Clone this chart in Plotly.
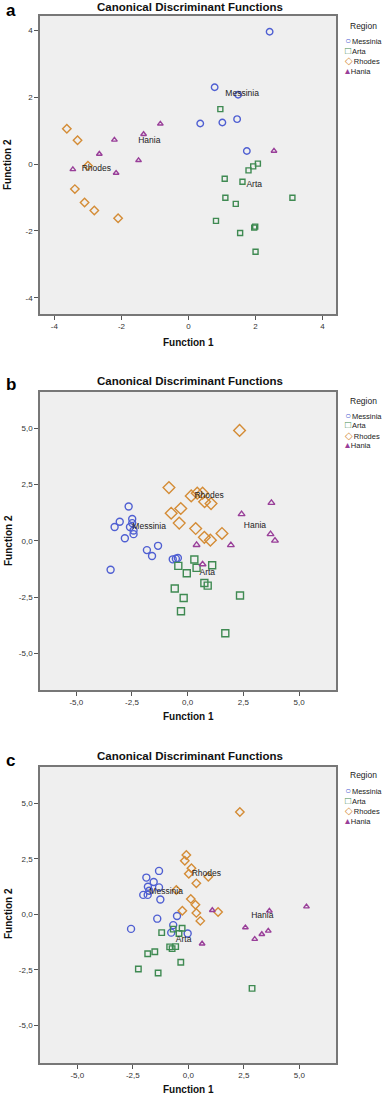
import plotly.graph_objects as go

# ---------------- data ----------------
regions = ["Messinia", "Arta", "Rhodes", "Hania"]

# Panel a
a_mes_x = [2.42, 0.78, 1.48, 0.35, 1.01, 1.45, 1.74]
a_mes_y = [3.95, 2.29, 2.07, 1.21, 1.24, 1.34, 0.39]
a_art_x = [0.95, 2.07, 1.93, 1.79, 1.08, 1.61, 1.10, 3.10, 1.41, 0.82, 1.99, 1.96, 1.54, 2.00]
a_art_y = [1.64, 0.01, -0.07, -0.19, -0.44, -0.53, -1.01, -1.01, -1.19, -1.70, -1.87, -1.90, -2.06, -2.62]
a_rho_x = [-3.63, -3.31, -3.00, -3.39, -3.10, -2.81, -2.10]
a_rho_y = [1.05, 0.71, -0.05, -0.75, -1.15, -1.39, -1.62]
a_han_x = [-0.84, -1.34, -2.21, -2.66, -1.49, -3.45, -2.16, 2.55]
a_han_y = [1.20, 0.89, 0.72, 0.30, 0.11, -0.16, -0.27, 0.39]
a_lab_x = [1.60, 1.96, -2.75, -1.17]
a_lab_y = [2.08, -0.63, -0.15, 0.68]

# Panel b
b_mes_x = [-2.65, -3.05, -3.28, -2.49, -2.49, -2.59, -2.43, -2.43, -2.82, -1.83, -1.33, -1.60, -3.46, -0.67, -0.53, -0.44]
b_mes_y = [1.53, 0.85, 0.62, 0.97, 0.79, 0.62, 0.46, 0.30, 0.12, -0.41, -0.22, -0.67, -1.28, -0.82, -0.79, -0.76]
b_art_x = [0.30, 1.10, -0.42, 0.40, -0.04, 0.75, 0.90, -0.58, 2.35, -0.18, -0.30, 1.69]
b_art_y = [-0.83, -1.08, -1.11, -1.20, -1.44, -1.87, -1.99, -2.12, -2.43, -2.54, -3.13, -4.11]
b_rho_x = [2.33, -0.84, 0.16, 0.43, 0.67, 0.76, 1.05, -0.31, -0.74, -0.38, 0.36, 0.75, 1.02, 1.54]
b_rho_y = [4.91, 2.37, 2.00, 2.12, 2.12, 1.74, 1.66, 1.44, 1.23, 0.79, 0.55, 0.16, 0.03, 0.33]
b_han_x = [3.76, 2.42, 3.72, 3.92, 0.40, 1.94, 0.67]
b_han_y = [1.69, 1.19, 0.30, 0.01, -0.18, -0.19, -1.04]
b_lab_x = [-1.73, 0.88, 0.96, 3.02]
b_lab_y = [0.64, -1.44, 2.00, 0.67]

# Panel c
c_mes_x = [-1.32, -1.89, -1.56, -1.82, -1.32, -2.03, -1.83, -1.76, -1.26, -0.51, -1.40, -2.58, -0.68, -0.77, -0.03]
c_mes_y = [1.95, 1.65, 1.45, 1.24, 1.21, 0.87, 0.87, 1.06, 0.66, -0.08, -0.20, -0.66, -0.49, -0.83, -0.87]
c_art_x = [-0.28, -0.68, -1.20, -0.42, -0.84, -0.73, -0.57, -1.51, -1.83, -0.34, -2.25, -1.36, 2.87]
c_art_y = [-0.63, -0.67, -0.83, -0.87, -1.47, -1.55, -1.46, -1.69, -1.78, -2.16, -2.47, -2.65, -3.34]
c_rho_x = [2.32, -0.09, -0.16, 0.14, 0.02, 0.90, 0.36, -0.54, 0.11, 0.32, -0.27, 0.36, 1.34, 0.54]
c_rho_y = [4.60, 2.67, 2.41, 2.07, 1.82, 1.69, 1.39, 1.09, 0.69, 0.43, 0.16, 0.06, 0.10, -0.30]
c_han_x = [1.08, 3.65, 5.32, 2.57, 3.60, 3.31, 2.99, 0.62]
c_han_y = [0.18, 0.15, 0.34, -0.60, -0.75, -0.90, -1.12, -1.33]
c_lab_x = [-1.00, -0.21, 0.81, 3.33]
c_lab_y = [0.99, -1.17, 1.81, -0.09]

ticks_a = [-4, -2, 0, 2, 4]
ticklabels_a = ["-4", "-2", "0", "2", "4"]
ticks_bc = [-5, -2.5, 0, 2.5, 5]
ticklabels_bc = ["-5,0", "-2,5", "0,0", "2,5", "5,0"]

# ---------------- styles ----------------
colors = {"Messinia": "#4f5fd2", "Arta": "#3f8a52", "Rhodes": "#d48c36", "Hania": "#993f99"}
symbols = {"Messinia": "circle-open", "Arta": "square-open", "Rhodes": "diamond-open", "Hania": "triangle-up-open"}
legend_glyph = {"Messinia": "○", "Arta": "□", "Rhodes": "◇", "Hania": "▴"}
FONT = "Liberation Sans, Arial, sans-serif"

W, H = 384, 1095
panels = [
    dict(key="a", data=[(a_mes_x, a_mes_y), (a_art_x, a_art_y), (a_rho_x, a_rho_y), (a_han_x, a_han_y)],
         lab=(a_lab_x, a_lab_y), xr=[-4.43, 4.40], yr=[-4.48, 4.42], top=16, bot=314,
         ticks=ticks_a, tl=ticklabels_a, sizes=[6.5, 5, 6.5, 5],
         title_y=7, xt_y=342, yt_y=165, leg_y=[26, 40, 50, 60, 70], letter_y=10),
    dict(key="b", data=[(b_mes_x, b_mes_y), (b_art_x, b_art_y), (b_rho_x, b_rho_y), (b_han_x, b_han_y)],
         lab=(b_lab_x, b_lab_y), xr=[-6.63, 6.66], yr=[-6.63, 6.62], top=392, bot=690,
         ticks=ticks_bc, tl=ticklabels_bc, sizes=[7, 7, 9, 6],
         title_y=381, xt_y=716, yt_y=541, leg_y=[401, 415, 425, 435, 445], letter_y=385),
    dict(key="c", data=[(c_mes_x, c_mes_y), (c_art_x, c_art_y), (c_rho_x, c_rho_y), (c_han_x, c_han_y)],
         lab=(c_lab_x, c_lab_y), xr=[-6.68, 6.65], yr=[-6.70, 6.63], top=767, bot=1063,
         ticks=ticks_bc, tl=ticklabels_bc, sizes=[7, 5.5, 6.5, 5],
         title_y=756, xt_y=1089, yt_y=914, leg_y=[775, 790, 800, 810, 820], letter_y=760),
]

x0, x1 = 40, 336
fig = go.Figure()
annotations = []

def py(p):
    return 1 - p / H

for i, p in enumerate(panels):
    n = "" if i == 0 else str(i + 1)
    xa, ya = "x" + n, "y" + n
    for (xs, ys), reg, sz in zip(p["data"], regions, p["sizes"]):
        fig.add_trace(go.Scatter(
            x=xs, y=ys, mode="markers", xaxis=xa, yaxis=ya, showlegend=False, name=reg,
            marker=dict(symbol=symbols[reg], size=sz, color=colors[reg], line=dict(width=1.4, color=colors[reg]))))
    fig.add_trace(go.Scatter(
        x=p["lab"][0], y=p["lab"][1], text=regions, mode="text", xaxis=xa, yaxis=ya, showlegend=False,
        textfont=dict(size=8.5, color="#222222", family=FONT)))
    axcommon = dict(showgrid=False, zeroline=False, showline=True, linecolor="#777777", linewidth=1.5,
                    mirror=True, ticks="outside", ticklen=4, tickcolor="#555555", tickwidth=1,
                    tickfont=dict(size=8, color="#333333", family=FONT), fixedrange=True)
    fig.layout["xaxis" + n] = dict(axcommon, domain=[x0 / W, x1 / W], range=p["xr"], anchor=ya,
                                   tickvals=p["ticks"], ticktext=p["tl"])
    fig.layout["yaxis" + n] = dict(axcommon, domain=[py(p["bot"]), py(p["top"])], range=p["yr"], anchor=xa,
                                   tickvals=p["ticks"], ticktext=p["tl"])
    fig.add_shape(type="rect", xref=xa + " domain", yref=ya + " domain", x0=0, x1=1, y0=0, y1=1,
                  fillcolor="#efefef", line=dict(width=0), layer="below")
    annotations.append(dict(text="<b>Canonical Discriminant Functions</b>", x=190 / W, y=py(p["title_y"]),
                            xref="paper", yref="paper", showarrow=False, xanchor="center", yanchor="middle",
                            font=dict(size=11.5, color="#111111", family=FONT)))
    annotations.append(dict(text="<b>%s</b>" % p["key"], x=4 / W, y=py(p["letter_y"]), xref="paper", yref="paper",
                            showarrow=False, xanchor="left", yanchor="middle",
                            font=dict(size=17, color="#000000", family=FONT)))
    annotations.append(dict(text="<b>Function 1</b>", x=188 / W, y=py(p["xt_y"]), xref="paper", yref="paper",
                            showarrow=False, xanchor="center", yanchor="middle",
                            font=dict(size=10, color="#111111", family=FONT)))
    annotations.append(dict(text="<b>Function 2</b>", x=8 / W, y=py(p["yt_y"]), xref="paper", yref="paper",
                            showarrow=False, xanchor="center", yanchor="middle", textangle=-90,
                            font=dict(size=10, color="#111111", family=FONT)))
    annotations.append(dict(text="Region", x=363 / W, y=py(p["leg_y"][0]), xref="paper", yref="paper",
                            showarrow=False, xanchor="center", yanchor="middle",
                            font=dict(size=8.5, color="#222222", family=FONT)))
    for reg, ly in zip(regions, p["leg_y"][1:]):
        annotations.append(dict(
            text="<span style='color:%s;font-size:10px'>%s</span><span style='font-size:3px'> </span>%s"
                 % (colors[reg], legend_glyph[reg], reg),
            x=343 / W, y=py(ly), xref="paper", yref="paper", showarrow=False,
            xanchor="left", yanchor="middle", font=dict(size=7.5, color="#222222", family=FONT)))

fig.update_layout(width=W, height=H, autosize=False, margin=dict(l=0, r=0, t=0, b=0),
                  paper_bgcolor="white", plot_bgcolor="#efefef", annotations=annotations,
                  showlegend=False)
fig.write_html("out.html", config={"displayModeBar": False},
               post_script="document.body.style.margin='0';document.body.style.overflow='hidden';")
